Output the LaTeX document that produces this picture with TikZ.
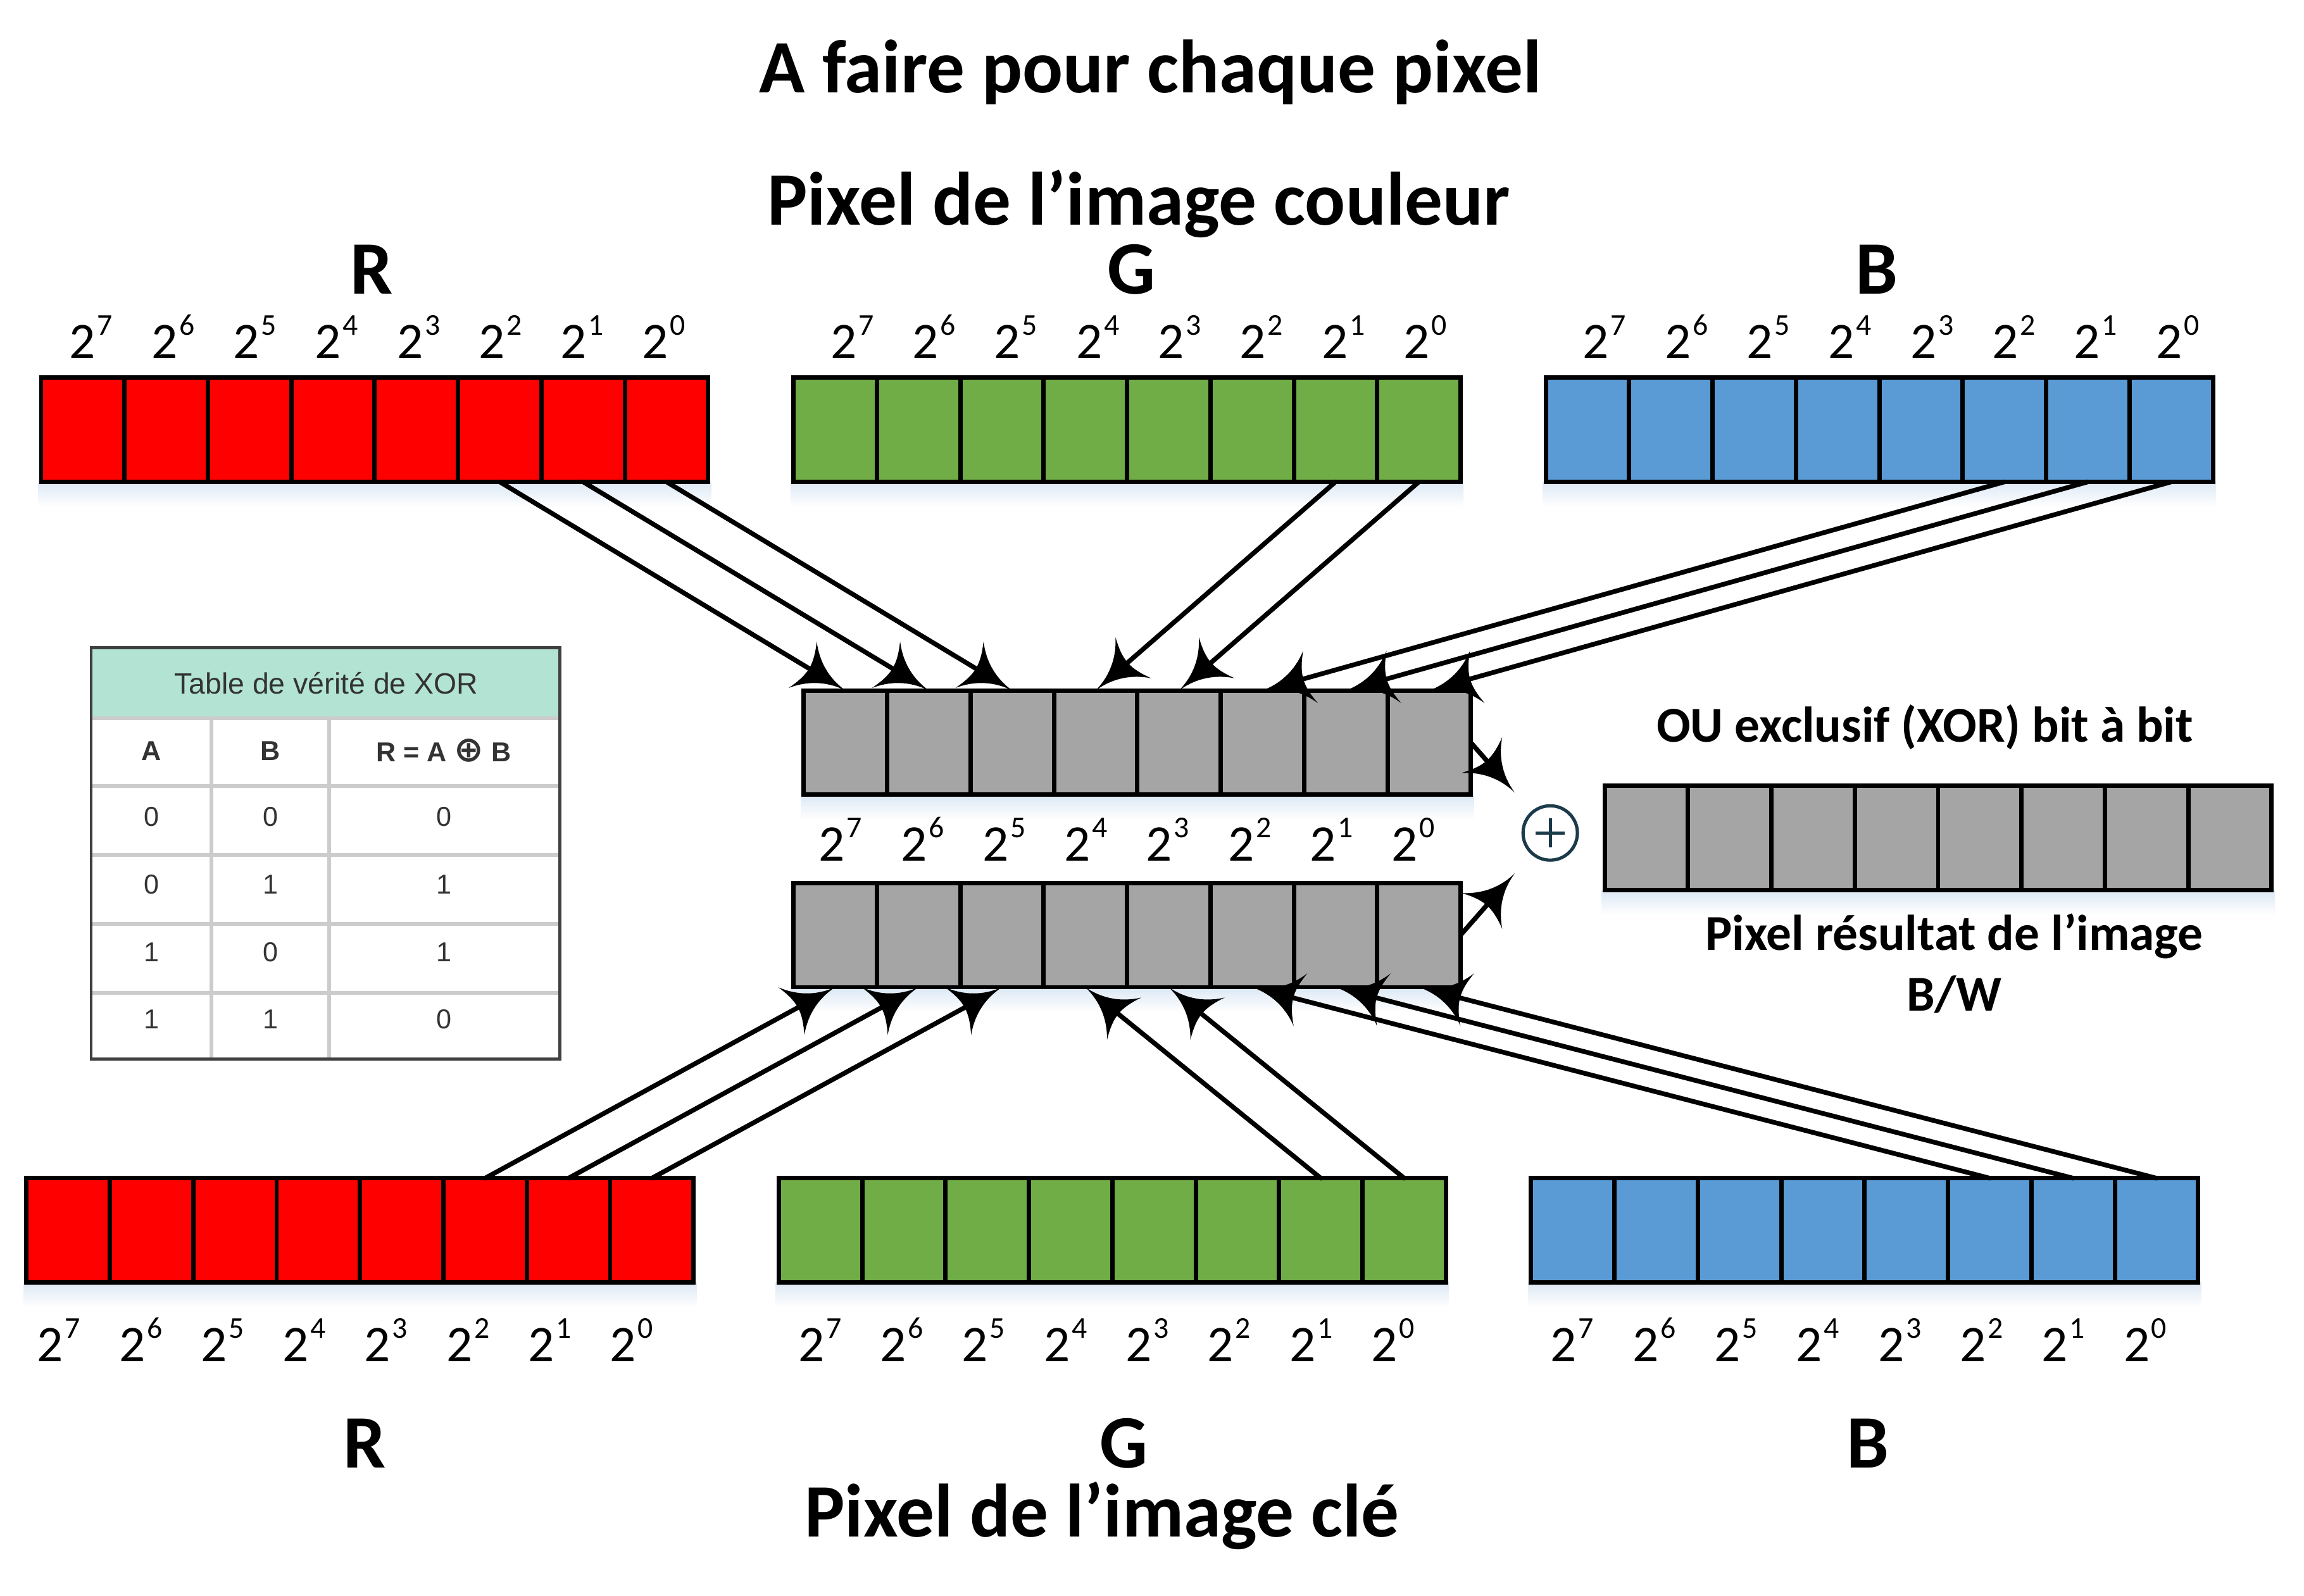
\documentclass[tikz,border=0pt]{standalone}
\usepackage{fontspec}
\setmainfont{Carlito}
\newfontfamily\arialf{Liberation Sans}
\newfontfamily\dejavu{DejaVu Sans}
\usetikzlibrary{arrows.meta}
\definecolor{cred}{HTML}{FF0000}
\definecolor{cgreen}{HTML}{70AD47}
\definecolor{cblue}{HTML}{5B9BD5}
\definecolor{cgray}{HTML}{A5A5A5}
\definecolor{thead}{HTML}{B3E3D3}
\definecolor{tgrid}{HTML}{CCCCCC}
\definecolor{ttext}{HTML}{333333}
\definecolor{shblue}{HTML}{DCE8F5}
\definecolor{xorcol}{HTML}{1B3A4A}

\pgfdeclarearrow{
  name = Visio,
  parameters = {\the\pgfarrowlength,\the\pgfarrowwidth},
  setup code = {
    \pgfarrowssettipend{0pt}
    \pgfarrowssetlineend{-0.7\pgfarrowlength}
    \pgfarrowssetvisualbackend{-0.85\pgfarrowlength}
    \pgfarrowssetbackend{-\pgfarrowlength}
    \pgfarrowshullpoint{0pt}{0pt}
    \pgfarrowsupperhullpoint{-\pgfarrowlength}{.5\pgfarrowwidth}
    \pgfarrowssavethe\pgfarrowlength
    \pgfarrowssavethe\pgfarrowwidth
  },
  drawing code = {
    \pgfpathmoveto{\pgfpointorigin}
    \pgfpathcurveto{\pgfpoint{-.33\pgfarrowlength}{.025\pgfarrowwidth}}{\pgfpoint{-.7\pgfarrowlength}{.15\pgfarrowwidth}}{\pgfpoint{-\pgfarrowlength}{.5\pgfarrowwidth}}
    \pgfpathcurveto{\pgfpoint{-.9\pgfarrowlength}{.3\pgfarrowwidth}}{\pgfpoint{-.85\pgfarrowlength}{.15\pgfarrowwidth}}{\pgfpoint{-.85\pgfarrowlength}{0pt}}
    \pgfpathcurveto{\pgfpoint{-.85\pgfarrowlength}{-.15\pgfarrowwidth}}{\pgfpoint{-.9\pgfarrowlength}{-.3\pgfarrowwidth}}{\pgfpoint{-\pgfarrowlength}{-.5\pgfarrowwidth}}
    \pgfpathcurveto{\pgfpoint{-.7\pgfarrowlength}{-.15\pgfarrowwidth}}{\pgfpoint{-.33\pgfarrowlength}{-.025\pgfarrowwidth}}{\pgfpointorigin}
    \pgfpathclose
    \pgfusepathqfill
  },
  defaults = {length = 17pt, width = 18.5pt}
}

\newcommand\powtwo[1]{2\kern0.6pt\raisebox{8pt}{\fontsize{10.3}{12}\selectfont #1}}
\newcommand\pixbar[4]{%
  \shade[top color=shblue, bottom color=white] ({#2-2},{#3+71}) rectangle ({#2+456},{#3+88});
  \foreach \i in {0,...,7}{
    \node[cell, fill=#4] (#1\i) at ({#2+56.75*(\i+0.5)},{#3+35.5}) {};
  }
}
\newcommand\powrow[3]{%
  \foreach \i in {0,...,7}{
    \pgfmathtruncatemacro\ex{7-\i}
    \node[pw] (#1\i) at ({#2+55.7*\i},#3) {\powtwo{\ex}};
  }
}

\begin{document}
\begin{tikzpicture}[x=0.5pt,y=-0.5pt,
  cell/.style={draw=black, line width=1.5pt, minimum width=28.375pt, minimum height=35.5pt, inner sep=0pt, outer sep=0pt},
  arr/.style={line width=1.6pt, line cap=round, -{Visio[length=17pt,width=18.5pt]}},
  big/.style={font=\fontsize{25.7}{30}\selectfont\bfseries, inner sep=0pt, anchor=base},
  midt/.style={font=\fontsize{17.1}{20}\selectfont\bfseries, inner sep=0pt, anchor=base},
  pw/.style={font=\fontsize{17.5}{20}\selectfont, inner sep=0pt, anchor=base},
  tt/.style={font=\arialf\fontsize{9.3}{11}\selectfont, text=ttext, inner sep=0pt},
  ttb/.style={font=\arialf\bfseries\fontsize{9.3}{11}\selectfont, text=ttext, inner sep=0pt},
]
\useasboundingbox (0,0) rectangle (1568,1086);
\fill[white] (0,0) rectangle (1568,1086);

% bars
\pixbar{tr}{28}{257}{cred}
\pixbar{tg}{540}{257}{cgreen}
\pixbar{tb}{1052}{257}{cblue}
\pixbar{ga}{547}{470}{cgray}
\pixbar{gb}{540}{601}{cgray}
\pixbar{br}{18}{802}{cred}
\pixbar{bg}{530}{802}{cgreen}
\pixbar{bb}{1042}{802}{cblue}
\pixbar{rs}{1092}{535}{cgray}

% titles
\node[big] (title) at (783,63) {A faire pour chaque pixel};
\node[big] (top) at (775,153) {Pixel de l’image couleur};
\node[big] (tR) at (253,200) {R};
\node[big] (tG) at (770,200) {G};
\node[big] (tB) at (1277,200) {B};
\node[big] (bR) at (248,999) {R};
\node[big] (bG) at (765,999) {G};
\node[big] (bB) at (1271,999) {B};
\node[big] (bot) at (750,1046) {Pixel de l’image clé};
\node[midt] (xorlab) at (1310,505) {OU exclusif (XOR) bit à bit};
\node[midt] (res1) at (1330,647) {Pixel résultat de l’image};
\node[midt] (res2) at (1330,688) {B/W};

% power labels
\powrow{ptr}{62}{244}
\powrow{ptg}{580}{244}
\powrow{ptb}{1092}{244}
\powrow{pm}{572}{586}
\powrow{pbr}{40}{927}
\powrow{pbg}{558}{927}
\powrow{pbb}{1070}{927}

% xor symbol
\node[circle, draw=xorcol, line width=1.1pt, minimum size=18.5pt, inner sep=0pt] (xor) at (1055,567) {};
\draw[xorcol, line width=1.1pt] (xor.center) ++(-10,0) -- ++(20,0) (xor.center) ++(0,-10) -- ++(0,20);

% arrows top
\draw[arr] (tr5.south) -- (ga0.north);
\draw[arr] (tr6.south) -- (ga1.north);
\draw[arr] (tr7.south) -- (ga2.north);
\draw[arr] (tg6.south) -- (ga3.north);
\draw[arr] (tg7.south) -- (ga4.north);
\draw[arr] (tb5.south) -- (ga5.north);
\draw[arr] (tb6.south) -- (ga6.north);
\draw[arr] (tb7.south) -- (ga7.north);
% arrows bottom
\draw[arr] (br5.north) -- (gb0.south);
\draw[arr] (br6.north) -- (gb1.south);
\draw[arr] (br7.north) -- (gb2.south);
\draw[arr] (bg6.north) -- (gb3.south);
\draw[arr] (bg7.north) -- (gb4.south);
\draw[arr] (bb5.north) -- (gb5.south);
\draw[arr] (bb6.north) -- (gb6.south);
\draw[arr] (bb7.north) -- (gb7.south);
% to xor
\draw[arr, shorten >=8.5pt] (ga7.east) -- (xor);
\draw[arr, shorten >=8.5pt] (gb7.east) -- (xor);

% truth table
\fill[thead] (62,441) rectangle (381,489);
\draw[tgrid, line width=1.3pt] (62,489) -- (381,489) (62,535) -- (381,535) (62,582) -- (381,582) (62,629) -- (381,629) (62,676) -- (381,676);
\draw[tgrid, line width=1.3pt] (144,489) -- (144,721) (224,489) -- (224,721);
\draw[black!75, line width=1pt] (62,441) rectangle (381,721);
\node[tt, font=\arialf\fontsize{10}{12}\selectfont] (th) at (222,465) {Table de vérité de XOR};
\node[ttb] (ha) at (103,511) {A};
\node[ttb] (hb) at (184,511) {B};
\node[ttb] (hr) at (302,511) {R = A {\dejavu\bfseries\fontsize{12}{12}\selectfont ⊕} B};
\node[tt] (a1) at (103,556) {0};
\node[tt] (b1) at (184,556) {0};
\node[tt] (r1) at (302,556) {0};
\node[tt] (a2) at (103,602) {0};
\node[tt] (b2) at (184,602) {1};
\node[tt] (r2) at (302,602) {1};
\node[tt] (a3) at (103,648) {1};
\node[tt] (b3) at (184,648) {0};
\node[tt] (r3) at (302,648) {1};
\node[tt] (a4) at (103,694) {1};
\node[tt] (b4) at (184,694) {1};
\node[tt] (r4) at (302,694) {0};
\end{tikzpicture}
\end{document}
